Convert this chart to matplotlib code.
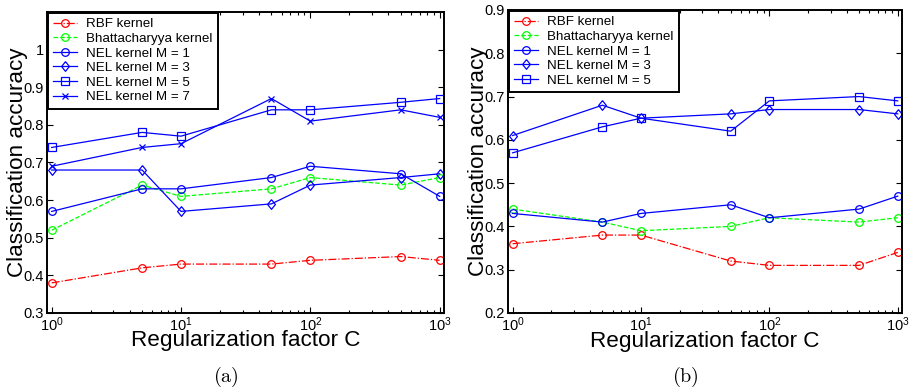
import math

import matplotlib
matplotlib.use("Agg")
from matplotlib import pyplot as plt
from matplotlib.ticker import FormatStrFormatter, LogLocator, FuncFormatter, NullFormatter

plt.rcParams['font.family'] = ['Liberation Sans', 'DejaVu Sans']
plt.rcParams['mathtext.fontset'] = 'custom'
plt.rcParams['mathtext.rm'] = 'Liberation Sans'

# regularization factor C
C = [1, 5, 10, 50, 100, 500, 1000]

# (a)
a_rbf = [0.38, 0.42, 0.43, 0.43, 0.44, 0.45, 0.44]
a_bhat = [0.52, 0.64, 0.61, 0.63, 0.66, 0.64, 0.66]
a_nel1 = [0.57, 0.63, 0.63, 0.66, 0.69, 0.67, 0.61]
a_nel3 = [0.68, 0.68, 0.57, 0.59, 0.64, 0.66, 0.67]
a_nel5 = [0.74, 0.78, 0.77, 0.84, 0.84, 0.86, 0.87]
a_nel7 = [0.69, 0.74, 0.75, 0.87, 0.81, 0.84, 0.82]

# (b)
b_rbf = [0.36, 0.38, 0.38, 0.32, 0.31, 0.31, 0.34]
b_bhat = [0.44, 0.41, 0.39, 0.40, 0.42, 0.41, 0.42]
b_nel1 = [0.43, 0.41, 0.43, 0.45, 0.42, 0.44, 0.47]
b_nel3 = [0.61, 0.68, 0.65, 0.66, 0.67, 0.67, 0.66]
b_nel5 = [0.57, 0.63, 0.65, 0.62, 0.69, 0.70, 0.69]

a_yticks = [0.3, 0.4, 0.5, 0.6, 0.7, 0.8, 0.9, 1.0]
b_yticks = [0.2, 0.3, 0.4, 0.5, 0.6, 0.7, 0.8, 0.9]

labels = ["RBF kernel", "Bhattacharyya kernel", "NEL kernel M = 1",
          "NEL kernel M = 3", "NEL kernel M = 5", "NEL kernel M = 7"]

# matlab style diamond (wider than matplotlib's thin 'd')
diamond = [(0, 1), (0.8, 0), (0, -1), (-0.8, 0), (0, 1)]


def pow_label(v, pos):
    return r'$\mathregular{10^{%d}}$' % int(round(math.log10(v)))


def draw(ax, series, ylim, yticks):
    styles = [('r', '-.', 'o', 5.5), ((0, 1, 0), '--', 'o', 5.5),
              ('b', '-', 'o', 5.5), ('b', '-', diamond, 7),
              ('b', '-', 's', 5.2), ('b', '-', 'x', 4.5)]
    for lab, (col, ls, mk, ms), vals in zip(labels, styles, series):
        ax.plot(C, vals, color=col, linestyle=ls, marker=mk, lw=0.9,
                markersize=ms, markerfacecolor='none',
                markeredgecolor=col, markeredgewidth=0.9, label=lab)
    ax.set_xscale('log')
    ax.set_xlim(0.92, 1080)
    ax.set_ylim(*ylim)
    ax.set_yticks(yticks)
    ax.yaxis.set_major_formatter(FormatStrFormatter('%g'))
    ax.xaxis.set_major_locator(LogLocator(base=10, numticks=10))
    ax.xaxis.set_major_formatter(FuncFormatter(pow_label))
    ax.xaxis.set_minor_locator(LogLocator(base=10, subs=range(2, 10), numticks=20))
    ax.xaxis.set_minor_formatter(NullFormatter())
    ax.tick_params(which='both', direction='in', top=True, right=True,
                   labelsize=10.5, width=0.8)
    ax.tick_params(which='major', length=4)
    ax.tick_params(axis='y', pad=2)
    ax.tick_params(axis='x', pad=2)
    ax.tick_params(which='minor', length=2.5)
    for s in ax.spines.values():
        s.set_linewidth(1.4)
    ax.set_xlabel('Regularization factor C', fontsize=16.2)
    ax.set_ylabel('Classification accuracy', fontsize=16.2)
    ax.xaxis.set_label_coords(0.5, -0.058)
    ax.yaxis.set_label_coords(-0.048, 0.5)
    leg = ax.legend(loc='upper left', fontsize=9.6, frameon=True, fancybox=False,
                    edgecolor='black', framealpha=1, borderaxespad=0.05,
                    handlelength=1.8, labelspacing=0.17, borderpad=0.4,
                    handletextpad=0.7)
    leg.get_frame().set_linewidth(1.4)


fig = plt.figure(figsize=(9.13, 3.91), dpi=100)
ax1 = fig.add_axes([0.0515, 0.1995, 0.4348, 0.7698])
ax2 = fig.add_axes([0.5564, 0.1995, 0.4316, 0.7750])

draw(ax1, [a_rbf, a_bhat, a_nel1, a_nel3, a_nel5, a_nel7], (0.3, 1.1), a_yticks)
draw(ax2, [b_rbf, b_bhat, b_nel1, b_nel3, b_nel5], (0.2, 0.9), b_yticks)

fig.text(226 / 913, 1 - 377 / 391, r'$\mathrm{(a)}$', math_fontfamily='cm',
         fontsize=14.5, ha='center', va='center')
fig.text(685 / 913, 1 - 377 / 391, r'$\mathrm{(b)}$', math_fontfamily='cm',
         fontsize=14.5, ha='center', va='center')

fig.savefig('out.png', dpi=100)
